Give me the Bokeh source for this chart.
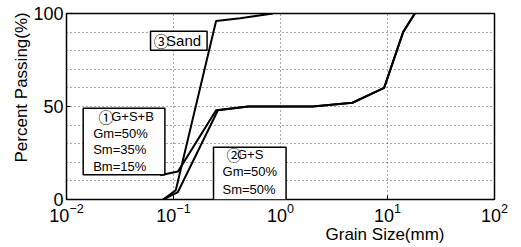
from bokeh.plotting import figure
from bokeh.models import Label, FixedTicker, Range1d, Title
from bokeh.embed import file_html
from bokeh.resources import INLINE

# ---- data ----
sand_x = [0.08, 0.105, 0.25, 0.42, 0.85]
sand_y = [0, 5, 96, 97.5, 100]

gsb_x = [0.075, 0.11, 0.25, 0.5, 2.0, 4.7, 9.3, 14, 18]
gsb_y = [13, 15, 48, 50, 50, 52, 60, 90, 100]

gs_x = [0.08, 0.11, 0.26, 0.5, 2.0, 4.7, 9.3, 14, 18]
gs_y = [0, 4, 48, 50, 50, 52, 60, 90, 100]

x_ticks = [0.01, 0.1, 1, 10, 100]
y_ticks = [0, 50, 100]
y_grid = [10, 20, 30, 40, 50, 60, 70, 80, 90]
x_grid = [0.1, 1, 10]

FONT = "Liberation Sans"
CJK = "Noto Sans CJK JP"
NB = "\u00a0"

p = figure(width=521, height=247, x_axis_type="log",
           x_range=Range1d(0.01, 100), y_range=Range1d(0, 100),
           output_backend="svg", toolbar_location=None,
           min_border_left=66, min_border_right=27,
           min_border_top=13, min_border_bottom=48)

p.background_fill_color = "white"
p.border_fill_color = "white"
p.outline_line_color = "black"
p.outline_line_width = 1.5
p.outline_line_alpha = 1.0

for ax in (p.xaxis, p.yaxis):
    ax.axis_line_color = None
    ax.major_tick_in = 4
    ax.major_tick_out = 0
    ax.major_tick_line_color = "black"
    ax.minor_tick_line_color = None
    ax.major_label_text_font = FONT
    ax.major_label_text_font_size = "18px"
    ax.major_label_text_color = "black"
    ax.major_label_standoff = 3

p.xaxis.ticker = FixedTicker(ticks=x_ticks)
p.yaxis.ticker = FixedTicker(ticks=y_ticks)

p.xgrid.ticker = FixedTicker(ticks=x_grid)
p.ygrid.ticker = FixedTicker(ticks=y_grid)
for g in (p.xgrid, p.ygrid):
    g.grid_line_color = "black"
    g.grid_line_dash = "1 3"
    g.grid_line_width = 1
    g.grid_line_alpha = 0.7

lw = 2
p.line(sand_x, sand_y, line_color="black", line_width=lw)
p.line(gsb_x, gsb_y, line_color="black", line_width=lw)
p.line(gs_x, gs_y, line_color="black", line_width=lw)

def box_label(x, y, text, pad, size="13px", lh=1.15):
    return Label(x=x, y=y, text=text, text_font=FONT, text_font_size=size,
                 text_color="black", text_align="left", text_baseline="top",
                 text_line_height=lh,
                 background_fill_color="white", background_fill_alpha=1.0,
                 border_line_color="black", border_line_width=1.5,
                 padding=pad)

def mark(x, y, text, size):
    return Label(x=x, y=y, text=text, text_font=CJK, text_font_size=size,
                 text_color="black", text_align="left", text_baseline="middle")

# (3) Sand
p.add_layout(box_label(0.061, 90.5, NB * 3 + "Sand",
                       dict(left=3, right=6, top=1, bottom=1), size="15px", lh=1.2))
p.add_layout(mark(0.0655, 85.3, "③", "15px"))

# (1) G+S+B
p.add_layout(box_label(0.01432, 49.1, NB * 5 + "G+S+B\nGm=50%\nSm=35%\nBm=15%",
                       dict(left=10, right=11, top=1, bottom=1), size="13px", lh=1.1))
p.add_layout(mark(0.0199, 44.6, "①", "15px"))

# (2) G+S
p.add_layout(box_label(0.2366, 28.1, NB * 4 + "G+S\nGm=50%\nSm=50%",
                       dict(left=9, right=9, top=0, bottom=3), size="13px"))
p.add_layout(mark(0.3126, 24.2, "②", "15px"))

# axis titles
p.add_layout(Title(text="Grain Size(mm)", align="left", offset=259,
                   vertical_align="top",
                   text_font=FONT, text_font_size="17px", text_font_style="normal",
                   text_color="black", standoff=0), "below")
p.add_layout(Title(text="Percent Passing(%)", align="left", offset=37,
                   text_font=FONT, text_font_size="17px", text_font_style="normal",
                   text_color="black", standoff=0), "left")

open("out.html", "w").write(file_html(p, INLINE))
